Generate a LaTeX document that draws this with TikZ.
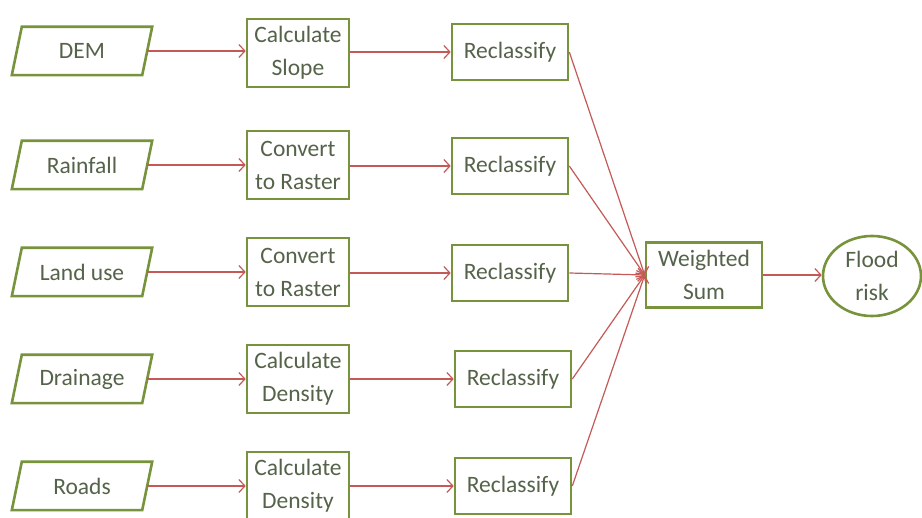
\documentclass[tikz,border=0pt]{standalone}
\usepackage{fontspec}
\setmainfont{Carlito}
\usetikzlibrary{arrows.meta,shapes.geometric}
\definecolor{olive}{HTML}{77933C}
\definecolor{txt}{HTML}{55634A}
\definecolor{lin}{HTML}{C45A57}
\begin{document}
\begin{tikzpicture}[x=1pt,y=-1pt,
  every node/.style={font=\fontsize{23.5}{33}\selectfont, text=txt, align=center, inner sep=0pt},
  para/.style={minimum width=130pt, minimum height=48pt},
  procbox/.style={draw=olive, line width=2.6pt, minimum width=102pt, minimum height=68pt},
  reclbox/.style={draw=olive, line width=2.6pt, minimum width=116pt, minimum height=56pt},
  arr/.style={draw=lin, line width=1.2pt, -{Straight Barb[length=6pt,width=13pt,line width=1.2pt]}},
  parashape/.style={draw=olive, line width=2.6pt, line join=miter}
]
\fill[white] (0,0) rectangle (922,518);
\useasboundingbox (0,0) rectangle (922,518);

% inputs
\node[para] (p1) at (82,51) {DEM};
\node[para] (p2) at (82,165) {Rainfall};
\node[para] (p3) at (82,272) {Land use};
\node[para] (p4) at (82,379) {Drainage};
\node[para] (p5) at (82,486) {Roads};
\foreach \n in {p1,p2,p3,p4,p5}{
  \draw[parashape] ([xshift=5pt]\n.north west) -- ([xshift=5pt]\n.north east)
     -- ([xshift=-5pt]\n.south east) -- ([xshift=-5pt]\n.south west) -- cycle;
}

% processes
\node[procbox] (c1) at (298,53) {Calculate\\Slope};
\node[procbox] (c2) at (298,165) {Convert\\to Raster};
\node[procbox] (c3) at (298,272) {Convert\\to Raster};
\node[procbox] (c4) at (298,379) {Calculate\\Density};
\node[procbox] (c5) at (298,486) {Calculate\\Density};

% reclassify
\node[reclbox] (r1) at (510,52) {Reclassify};
\node[reclbox] (r2) at (510,166) {Reclassify};
\node[reclbox] (r3) at (510,273) {Reclassify};
\node[reclbox] (r4) at (513,379) {Reclassify};
\node[reclbox] (r5) at (513,486) {Reclassify};

% weighted sum and result
\node[procbox, minimum width=116pt, minimum height=65pt] (ws) at (704,275) {Weighted\\Sum};
\node[ellipse, draw=olive, line width=2.6pt, minimum width=98pt, minimum height=80pt] (fr) at (872,276) {Flood\\risk};

\foreach \i in {1,...,5}{
  \draw[arr] (p\i.east) -- (c\i.west |- p\i.east);
  \draw[arr] (c\i.east |- r\i.west) -- (r\i.west);
  \draw[arr] (r\i.east) -- (ws.west);
}
\draw[arr] (ws.east) -- (fr.west |- ws.east);
\end{tikzpicture}
\end{document}
